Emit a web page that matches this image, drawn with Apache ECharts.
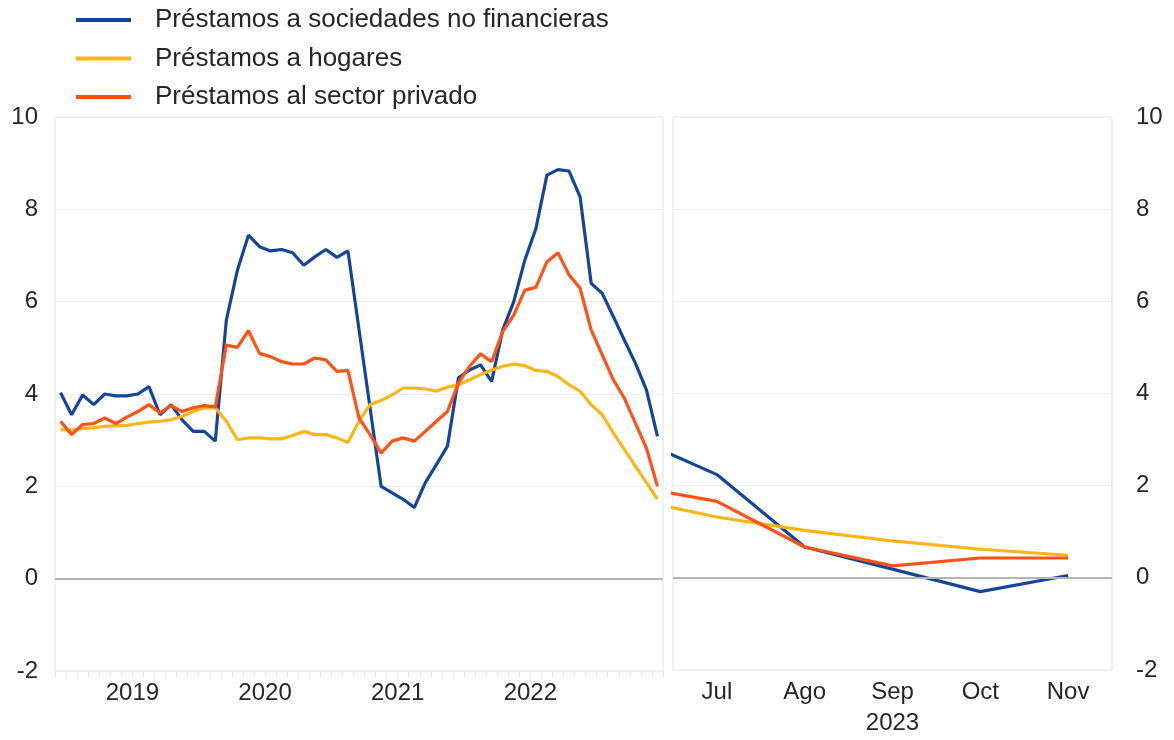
<!DOCTYPE html>
<html>
<head>
<meta charset="utf-8">
<title>Préstamos</title>
<script src="https://cdn.jsdelivr.net/npm/echarts@6/dist/echarts.min.js"></script>
<style>
  html, body { margin: 0; padding: 0; background: #fff; }
  #chart { width: 1174px; height: 740px; }
</style>
</head>
<body>
<div id="chart"></div>
<script>
// serie mensual dic-2018 .. jun-2023 (panel izquierdo)
const yearLabels = ['2019', '2020', '2021', '2022']
const sociedades = [
  4.03, 3.55, 3.98, 3.77, 4.0, 3.96, 3.96, 4.0, 4.16, 3.55, 3.77, 3.44,
  3.19, 3.19, 2.98, 5.6, 6.68, 7.44, 7.19, 7.1, 7.13, 7.06, 6.79, 6.97,
  7.13, 6.96, 7.1, 5.4, 3.7, 2.0, 1.86, 1.72, 1.54, 2.08, 2.47, 2.87,
  4.35, 4.52, 4.63, 4.27, 5.39, 6.0, 6.9, 7.58, 8.74, 8.86, 8.83, 8.27,
  6.4, 6.18, 5.68, 5.17, 4.67, 4.09, 3.08
]
const hogares = [
  3.23, 3.22, 3.25, 3.27, 3.3, 3.31, 3.32, 3.36, 3.39, 3.41, 3.44, 3.52,
  3.62, 3.7, 3.7, 3.41, 3.01, 3.05, 3.05, 3.03, 3.03, 3.1, 3.19, 3.12,
  3.12, 3.05, 2.95, 3.41, 3.77, 3.86, 3.98, 4.13, 4.13, 4.11, 4.06, 4.15,
  4.2, 4.31, 4.42, 4.52, 4.6, 4.65, 4.61, 4.51, 4.49, 4.38, 4.2, 4.06,
  3.77, 3.55, 3.16, 2.8, 2.44, 2.08, 1.72
]
const privado = [
  3.41, 3.12, 3.34, 3.36, 3.48, 3.36, 3.5, 3.62, 3.77, 3.59, 3.75, 3.62,
  3.7, 3.75, 3.72, 5.06, 5.01, 5.37, 4.88, 4.81, 4.7, 4.65, 4.65, 4.78,
  4.74, 4.49, 4.51, 3.48, 3.12, 2.72, 2.98, 3.05, 2.98, 3.19, 3.41, 3.62,
  4.24, 4.6, 4.87, 4.7, 5.35, 5.71, 6.25, 6.31, 6.86, 7.06, 6.58, 6.29,
  5.39, 4.85, 4.31, 3.91, 3.37, 2.83, 2.0
]

// panel derecho: jun-2023 .. nov-2023 (jun queda recortado)
const rightMonths = ['Jun', 'Jul', 'Ago', 'Sep', 'Oct', 'Nov']
const sociedadesR = [3.08, 2.24, 0.67, 0.19, -0.3, 0.05]
const hogaresR = [1.72, 1.32, 1.03, 0.8, 0.62, 0.49]
const privadoR = [2.0, 1.66, 0.67, 0.26, 0.43, 0.43]

const names = ['Préstamos a sociedades no financieras', 'Préstamos a hogares', 'Préstamos al sector privado']
const colors = ['#15459b', '#fdb515', '#ff5214']
const font = 'Liberation Sans, Arial, sans-serif'
const txt = '#262626'

const chart = echarts.init(document.getElementById('chart'))

const idx = arr => arr.map((v, i) => [i, v])
// dic-2018 es el índice 0 -> mitad de cada año en 6.5 + 12k
const yearPos = yearLabels.map((y, k) => 6.5 + 12 * k)
const monthTicks = sociedades.map((v, i) => i - 0.5).concat([sociedades.length - 0.5])

const yAxisBase = {
  type: 'value', min: -2, max: 10, interval: 2,
  axisLine: { show: false }, axisTick: { show: false },
  splitLine: { lineStyle: { color: '#efefef', width: 1 } },
  axisLabel: { color: txt, fontSize: 24, fontFamily: font }
}

const lineSeries = (name, data, color, axis, z) => ({
  name, type: 'line', data, xAxisIndex: axis, yAxisIndex: axis,
  showSymbol: false, symbol: 'none', clip: true, z,
  lineStyle: { color, width: 3.2 }, itemStyle: { color }
})

const zeroLine = axis => ({
  type: 'line', data: [], xAxisIndex: axis, yAxisIndex: axis, z: 1, silent: true,
  markLine: {
    silent: true, symbol: 'none', label: { show: false },
    lineStyle: { color: '#b5b5b5', width: 2, type: 'solid' },
    data: [{ yAxis: 0 }]
  }
})

chart.setOption({
  animation: false,
  color: colors,
  legend: {
    orient: 'vertical', left: 71, top: 2,
    itemWidth: 55, itemHeight: 4, itemGap: 12.5, icon: 'rect',
    data: names,
    textStyle: { color: txt, fontSize: 26, lineHeight: 26, fontFamily: font, padding: [0, 0, 0, 19] }
  },
  grid: [
    { left: 55, top: 117, width: 608, height: 554, show: true, borderColor: '#e3e3e3', borderWidth: 1, containLabel: false },
    { left: 673, top: 117, width: 439, height: 554, show: true, borderColor: '#e3e3e3', borderWidth: 1, containLabel: false }
  ],
  xAxis: [
    {
      type: 'value', gridIndex: 0, min: -0.5, max: sociedades.length - 0.5,
      splitLine: { show: false },
      axisLine: { show: false, onZero: false },
      axisTick: { show: true, length: 6, customValues: monthTicks, lineStyle: { color: '#e6e6e6' } },
      axisLabel: {
        color: txt, fontSize: 24, fontFamily: font, margin: 10,
        customValues: yearPos,
        formatter: v => yearLabels[yearPos.indexOf(v)] || ''
      }
    },
    {
      type: 'value', gridIndex: 1, min: 0.5, max: rightMonths.length - 0.5,
      splitLine: { show: false },
      axisLine: { show: false, onZero: false },
      axisTick: { show: false },
      axisLabel: {
        color: txt, fontSize: 24, fontFamily: font, margin: 10,
        customValues: [1, 2, 3, 4, 5],
        formatter: v => rightMonths[v] || ''
      },
      name: '2023', nameLocation: 'middle', nameGap: 41,
      nameTextStyle: { color: txt, fontSize: 24, fontFamily: font }
    }
  ],
  yAxis: [
    Object.assign({}, yAxisBase, { gridIndex: 0, position: 'left',
      axisLabel: Object.assign({}, yAxisBase.axisLabel, { margin: 17 }) }),
    Object.assign({}, yAxisBase, { gridIndex: 1, position: 'right',
      axisLabel: Object.assign({}, yAxisBase.axisLabel, { margin: 24 }) })
  ],
  series: [
    zeroLine(0),
    zeroLine(1),
    lineSeries(names[0], idx(sociedades), colors[0], 0, 3),
    lineSeries(names[1], idx(hogares), colors[1], 0, 3),
    lineSeries(names[2], idx(privado), colors[2], 0, 3),
    lineSeries(names[0], idx(sociedadesR), colors[0], 1, 3),
    lineSeries(names[1], idx(hogaresR), colors[1], 1, 3),
    lineSeries(names[2], idx(privadoR), colors[2], 1, 3)
  ]
})
</script>
</body>
</html>
